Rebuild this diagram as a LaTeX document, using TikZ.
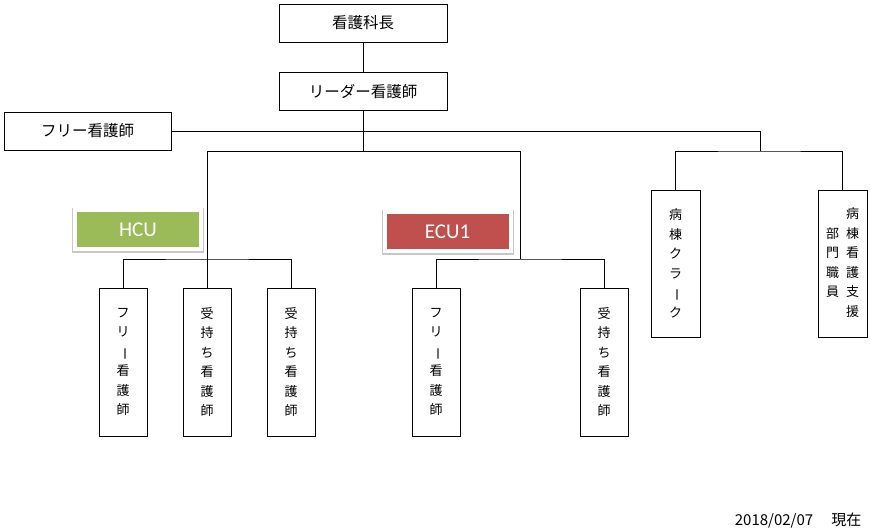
\documentclass[tikz,border=0pt]{standalone}
\usepackage{fontspec}
\usepackage{graphicx}
\setmainfont{Noto Sans CJK JP}
\newfontfamily\tagfont{Carlito}
\tikzset{
  box/.style={draw, line width=0.9pt, inner sep=0pt},
  hbox/.style={box, minimum width=168pt, minimum height=38pt, font=\fontsize{15.5pt}{17pt}\selectfont},
  vbox/.style={box, minimum width=48pt, minimum height=148pt, align=center, font=\fontsize{13pt}{19.5pt}\selectfont},
  tag/.style={draw=white, line width=4pt, minimum width=126pt, minimum height=39pt, inner sep=0pt, text=white,
    font=\tagfont\fontsize{21pt}{22pt}\selectfont,
    preaction={draw=black!22, line width=6pt, transform canvas={yshift=-1.2pt}}},
}
\newcommand{\cho}{\rotatebox[origin=c]{-90}{ー}}
\begin{document}
\begin{tikzpicture}[x=1pt,y=-1pt,line width=0.8pt]
\useasboundingbox (0,0) rectangle (870,531);
\node[hbox] (chief) at (363,23) {看護科長};
\node[hbox] (leader) at (363,91.5) {リーダー看護師};
\node[hbox, minimum width=167pt] (free) at (87.5,131) {フリー看護師};
\node[tag, fill={rgb,255:red,155;green,187;blue,89}] (hcu) at (138,229.5) {HCU};
\node[tag, fill={rgb,255:red,192;green,80;blue,77}] (ecu) at (447.5,231.5) {ECU1};
\node[vbox] (h1) at (123,362) {フ\\リ\\\cho\\看\\護\\師};
\node[vbox] (h2) at (207,362) {受\\持\\ち\\看\\護\\師};
\node[vbox] (h3) at (291,362) {受\\持\\ち\\看\\護\\師};
\node[vbox] (e1) at (436,362) {フ\\リ\\\cho\\看\\護\\師};
\node[vbox] (e2) at (604,362) {受\\持\\ち\\看\\護\\師};
\node[vbox, minimum width=49pt, minimum height=147pt] (clerk) at (675.5,263.5) {病\\棟\\ク\\ラ\\\cho\\ク};
\node[vbox, minimum width=49pt, minimum height=147pt] (support) at (842.5,263.5)
  {\begin{tabular}{@{}c@{\hspace{7pt}}c@{}} & 病\\ 部 & 棟\\ 門 & 看\\ 職 & 護\\ 員 & 支\\ & 援\end{tabular}};
\node[anchor=east, font=\fontsize{15pt}{16pt}\selectfont] (date) at (865,521) {2018/02/07\hspace{18pt}現在};
\coordinate (hub) at (363,151);
\coordinate (ecutop) at (520,151);
\coordinate (hcubar) at (207,259);
\coordinate (ecubar) at (520,259);
\coordinate (rj) at (760,131);
\draw (chief) -- (leader);
\draw (leader) -- (hub);
\draw (h2.north) -- (h2 |- hub) -- (ecutop) -- (ecubar);
\draw (h1.north) |- (hcubar) -| (h3.north);
\draw (e1.north) |- (ecubar) -| (e2.north);
\draw (free) -- (rj) -- (rj |- hub);
\draw (clerk.north) |- (rj |- hub) -| (support.north);
\end{tikzpicture}
\end{document}
